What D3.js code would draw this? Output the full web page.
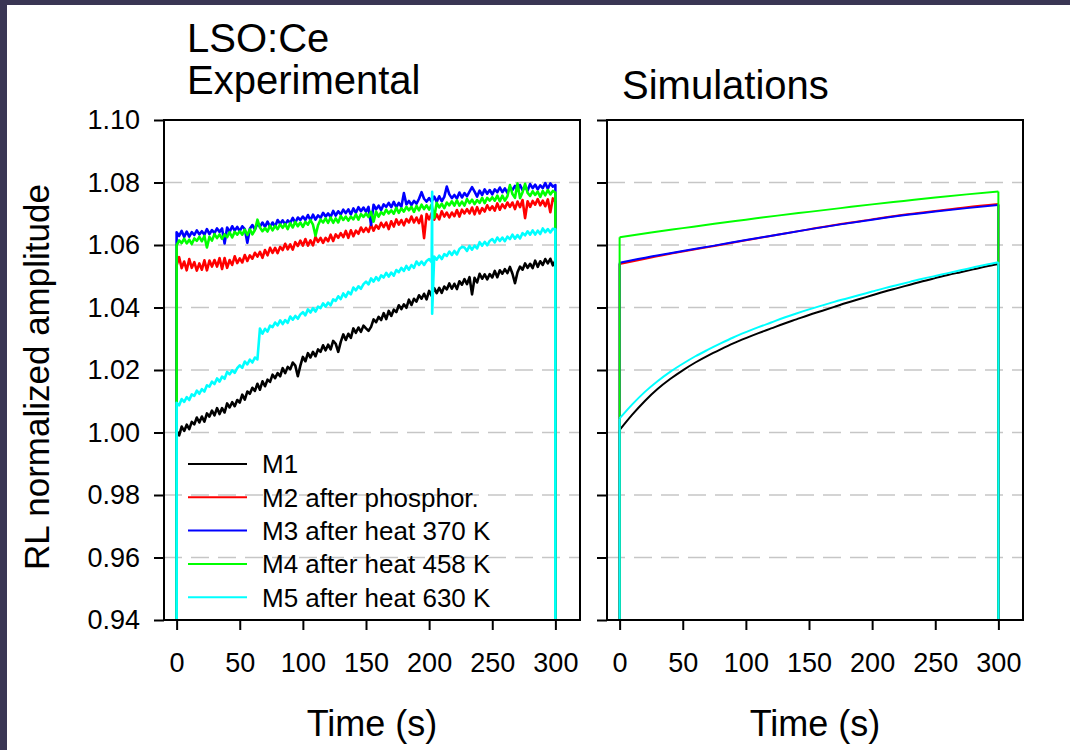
<!DOCTYPE html>
<html><head><meta charset="utf-8">
<script src="https://cdn.jsdelivr.net/npm/d3@7"></script>
<style>
html,body{margin:0;padding:0;background:#fff;overflow:hidden;}
svg{display:block;font-family:"Liberation Sans",Arial,Helvetica,sans-serif;}
</style></head><body>
<svg id="chart" width="1070" height="750"></svg>
<script>
// ---------------- DATA ----------------
const SERIES_NAMES = ["M1", "M2 after phosphor.", "M3 after heat 370 K", "M4 after heat 458 K", "M5 after heat 630 K"];
const SERIES_COLORS = ["#000000", "#ff0000", "#0000ff", "#00ff00", "#00ffff"];
const Y_TICKS = [0.94, 0.96, 0.98, 1.00, 1.02, 1.04, 1.06, 1.08, 1.10];
const X_TICKS = [0, 50, 100, 150, 200, 250, 300];
const BEAM_ON = 0, BEAM_OFF_T = 300;   // irradiation interval (s)
const OFF_LEVEL = 0;                    // signal when beam is off

// experimental: sampled every 2 s from 0 to 300 s
const EXP_TIME = d3.range(0, 301, 2);
const M1_EXP = [
1.0005,0.9991,1.0019,1.0005,1.0025, 1.0011,1.0034,1.0026,1.0048,1.0032, 1.0051,1.0035,1.0061,1.0051,1.0070,
1.0055,1.0078,1.0059,1.0078,1.0064, 1.0093,1.0080,1.0097,1.0084,1.0104, 1.0096,1.0121,1.0105,1.0131,1.0124,
1.0143,1.0133,1.0156,1.0137,1.0164, 1.0148,1.0169,1.0162,1.0185,1.0174, 1.0190,1.0180,1.0206,1.0190,1.0210,
1.0202,1.0224,1.0214,1.0180,1.0214, 1.0242,1.0228,1.0254,1.0240,1.0258, 1.0244,1.0266,1.0258,1.0279,1.0263,
1.0281,1.0266,1.0293,1.0284,1.0258, 1.0290,1.0314,1.0296,1.0316,1.0303, 1.0333,1.0319,1.0336,1.0322,1.0342,
1.0333,1.0325,1.0338,1.0362,1.0353, 1.0370,1.0360,1.0382,1.0363,1.0389, 1.0373,1.0393,1.0385,1.0407,1.0395,
1.0410,1.0399,1.0425,1.0408,1.0428, 1.0419,1.0439,1.0428,1.0444,1.0426, 1.0453,1.0437,1.0462,1.0446,1.0463,
1.0447,1.0467,1.0458,1.0477,1.0460, 1.0476,1.0459,1.0484,1.0473,1.0491, 1.0475,1.0497,1.0442,1.0495,1.0480,
1.0508,1.0492,1.0506,1.0490,1.0507, 1.0496,1.0517,1.0497,1.0519,1.0508, 1.0523,1.0510,1.0530,1.0508,1.0478,
1.0513,1.0531,1.0521,1.0541,1.0527, 1.0540,1.0526,1.0550,1.0530,1.0548, 1.0536,1.0555,1.0541,1.0556,1.0535,
1.0550];
const M2_EXP = [
1.0535,1.0561,1.0526,1.0547,1.0519, 1.0555,1.0527,1.0545,1.0518,1.0541, 1.0521,1.0551,1.0519,1.0550,1.0531,
1.0552,1.0531,1.0558,1.0523,1.0558, 1.0527,1.0552,1.0536,1.0564,1.0542, 1.0557,1.0544,1.0568,1.0549,1.0567,
1.0556,1.0575,1.0563,1.0578,1.0559, 1.0584,1.0567,1.0591,1.0575,1.0591, 1.0574,1.0594,1.0584,1.0604,1.0586,
1.0602,1.0585,1.0609,1.0597,1.0614, 1.0598,1.0619,1.0598,1.0615,1.0599, 1.0626,1.0610,1.0623,1.0607,1.0623,
1.0612,1.0633,1.0613,1.0634,1.0623, 1.0638,1.0625,1.0645,1.0623,1.0647, 1.0628,1.0646,1.0636,1.0656,1.0642,
1.0655,1.0642,1.0665,1.0646,1.0663, 1.0652,1.0671,1.0657,1.0672,1.0651, 1.0676,1.0659,1.0682,1.0665,1.0680,
1.0663,1.0683,1.0672,1.0691,1.0672, 1.0688,1.0670,1.0694,1.0622,1.0699, 1.0682,1.0702,1.0681,1.0698,1.0682,
1.0708,1.0691,1.0704,1.0688,1.0704, 1.0692,1.0712,1.0691,1.0713,1.0701, 1.0715,1.0701,1.0720,1.0698,1.0721,
1.0701,1.0718,1.0707,1.0727,1.0712, 1.0724,1.0710,1.0733,1.0713,1.0730, 1.0718,1.0736,1.0722,1.0736,1.0715,
1.0739,1.0721,1.0744,1.0686,1.0740, 1.0722,1.0741,1.0729,1.0747,1.0727, 1.0742,1.0724,1.0746,1.0705,1.0749,
1.0739];
const M3_EXP = [
1.0641,1.0629,1.0645,1.0626,1.0643, 1.0627,1.0641,1.0632,1.0647,1.0634, 1.0644,1.0633,1.0651,1.0635,1.0648,
1.0638,1.0653,1.0642,1.0653,1.0605, 1.0656,1.0642,1.0660,1.0646,1.0658, 1.0644,1.0660,1.0651,1.0607,1.0652,
1.0664,1.0650,1.0668,1.0659,1.0672, 1.0658,1.0675,1.0658,1.0672,1.0659, 1.0680,1.0668,1.0679,1.0666,1.0679,
1.0671,1.0687,1.0671,1.0688,1.0680, 1.0691,1.0680,1.0696,1.0679,1.0697, 1.0681,1.0695,1.0687,1.0703,1.0691,
1.0701,1.0690,1.0709,1.0694,1.0708, 1.0698,1.0713,1.0702,1.0714,1.0698, 1.0717,1.0703,1.0721,1.0708,1.0720,
1.0706,1.0722,1.0664,1.0729,1.0714, 1.0726,1.0712,1.0730,1.0722,1.0735, 1.0721,1.0738,1.0721,1.0735,1.0722,
1.0766,1.0730,1.0741,1.0728,1.0741, 1.0732,1.0748,1.0769,1.0748,1.0739, 1.0750,1.0739,1.0755,1.0738,1.0756,
1.0740,1.0754,1.0787,1.0762,1.0750, 1.0760,1.0749,1.0768,1.0752,1.0766, 1.0756,1.0771,1.0785,1.0771,1.0755,
1.0774,1.0760,1.0778,1.0764,1.0776, 1.0762,1.0778,1.0769,1.0784,1.0769, 1.0781,1.0767,1.0785,1.0776,1.0789,
1.0775,1.0792,1.0775,1.0787,1.0774, 1.0795,1.0782,1.0793,1.0778,1.0791, 1.0782,1.0798,1.0780,1.0797,1.0787,
1.0792];
const M4_EXP = [
1.0599,1.0615,1.0606,1.0620,1.0605, 1.0617,1.0603,1.0621,1.0613,1.0626, 1.0612,1.0629,1.0592,1.0626,1.0614,
1.0635,1.0622,1.0634,1.0620,1.0634, 1.0625,1.0641,1.0624,1.0642,1.0633, 1.0644,1.0633,1.0649,1.0632,1.0650,
1.0634,1.0648,1.0681,1.0656,1.0644, 1.0654,1.0643,1.0662,1.0647,1.0661, 1.0651,1.0666,1.0655,1.0667,1.0651,
1.0670,1.0656,1.0674,1.0660,1.0672, 1.0658,1.0674,1.0665,1.0680,1.0665, 1.0630,1.0663,1.0681,1.0672,1.0685,
1.0671,1.0688,1.0671,1.0685,1.0672, 1.0693,1.0680,1.0691,1.0678,1.0691, 1.0682,1.0698,1.0681,1.0699,1.0690,
1.0701,1.0690,1.0706,1.0675,1.0707, 1.0691,1.0705,1.0697,1.0713,1.0701, 1.0711,1.0700,1.0719,1.0703,1.0717,
1.0707,1.0722,1.0711,1.0722,1.0706, 1.0725,1.0711,1.0729,1.0715,1.0727, 1.0713,1.0729,1.0687,1.0735,1.0720,
1.0732,1.0718,1.0736,1.0727,1.0740, 1.0726,1.0743,1.0726,1.0739,1.0726, 1.0747,1.0734,1.0745,1.0731,1.0744,
1.0735,1.0751,1.0734,1.0751,1.0742, 1.0753,1.0742,1.0758,1.0740,1.0758, 1.0742,1.0756,1.0792,1.0763,1.0751,
1.0797,1.0750,1.0769,1.0796,1.0767, 1.0757,1.0772,1.0760,1.0771,1.0754, 1.0773,1.0759,1.0776,1.0762,1.0773,
1.0768];
const M5_EXP = [
1.0095,1.0087,1.0107,1.0098,1.0113, 1.0104,1.0122,1.0117,1.0134,1.0124, 1.0139,1.0131,1.0151,1.0147,1.0163,
1.0155,1.0173,1.0163,1.0179,1.0172, 1.0194,1.0186,1.0199,1.0191,1.0206, 1.0215,1.0207,1.0227,1.0218,1.0233,
1.0224,1.0240,1.0234,1.0333,1.0316, 1.0332,1.0323,1.0342,1.0337,1.0352, 1.0343,1.0359,1.0347,1.0360,1.0351,
1.0371,1.0361,1.0373,1.0364,1.0378, 1.0385,1.0375,1.0394,1.0384,1.0398, 1.0387,1.0403,1.0398,1.0413,1.0403,
1.0416,1.0407,1.0426,1.0421,1.0436, 1.0427,1.0445,1.0434,1.0450,1.0442, 1.0464,1.0455,1.0468,1.0460,1.0475,
1.0483,1.0474,1.0493,1.0483,1.0497, 1.0487,1.0503,1.0496,1.0511,1.0499, 1.0512,1.0502,1.0520,1.0513,1.0527,
1.0517,1.0533,1.0521,1.0536,1.0527, 1.0547,1.0536,1.0547,1.0536,1.0549, 1.0555,1.0545,1.0563,1.0553,1.0566,
1.0555,1.0571,1.0565,1.0579,1.0568, 1.0581,1.0570,1.0587,1.0594,1.0592, 1.0581,1.0597,1.0585,1.0598,1.0589,
1.0609,1.0598,1.0610,1.0599,1.0613, 1.0619,1.0608,1.0624,1.0613,1.0624, 1.0612,1.0627,1.0619,1.0633,1.0620,
1.0632,1.0621,1.0638,1.0631,1.0644, 1.0633,1.0647,1.0633,1.0646,1.0635, 1.0653,1.0641,1.0651,1.0640,1.0652,
1.0650];
// single-sample glitch in M5 (time, value)
const M5_GLITCH_T = [202.4, 202.4];
const M5_GLITCH_V = [1.0770, 1.0380];

// simulations
const SIM_TIME_FINE = [0,10,20,30,40,50,60,70,80,90,100,110,120,130,140,150,160,170,180,190,200,210,220,230,240,250,260,270,280,290,300];
const SIM_TIME_COARSE = [0,25,50,75,100,125,150,175,200,225,250,275,300];
const M1_SIM = [1.0008,1.0057,1.0101,1.0139,1.0171,1.0199,1.0224,1.0246,1.0266,1.0285,1.0302,1.0318,1.0333,1.0348,1.0362,1.0376,1.0389,1.0402,1.0415,1.0427,1.0439,1.0451,1.0462,1.0473,1.0484,1.0494,1.0504,1.0513,1.0522,1.0531,1.0539];
const M5_SIM = [1.0045,1.0090,1.0130,1.0164,1.0194,1.0220,1.0244,1.0265,1.0285,1.0304,1.0321,1.0337,1.0352,1.0367,1.0381,1.0394,1.0406,1.0418,1.0429,1.0440,1.0451,1.0462,1.0472,1.0482,1.0492,1.0501,1.0510,1.0519,1.0528,1.0537,1.0545];
const M2_SIM = [1.0539,1.0560,1.0579,1.0597,1.0615,1.0633,1.0650,1.0667,1.0682,1.0697,1.0709,1.0721,1.0731];
const M3_SIM = [1.0543,1.0563,1.0581,1.0598,1.0616,1.0633,1.0650,1.0666,1.0681,1.0695,1.0707,1.0718,1.0728];
const M4_SIM = [1.0625,1.0640,1.0654,1.0668,1.0681,1.0694,1.0706,1.0718,1.0730,1.0741,1.0752,1.0762,1.0771];

// ---------------- DRAW ----------------
const svg = d3.select("#chart");
const W = 1070, H = 750;
svg.append("rect").attr("width", W).attr("height", H).attr("fill", "#ffffff");
svg.append("rect").attr("x", 0).attr("y", 0).attr("width", W).attr("height", 5).attr("fill", "#3a3654");
svg.append("rect").attr("x", 0).attr("y", 0).attr("width", 7).attr("height", H).attr("fill", "#3a3654");

const TOP = 120, BOTTOM = 620;
const panels = [
  {x0: 164, x1: 580, labels: true},
  {x0: 607, x1: 1023, labels: false}
];
const y = d3.scaleLinear().domain([0.94, 1.10]).range([BOTTOM, TOP]);

const expSeries = [M1_EXP, M2_EXP, M3_EXP, M4_EXP, M5_EXP].map((vals, i) => {
  let pts = EXP_TIME.map((t, j) => ({t, v: vals[j]}));
  if (i === 4) {
    pts = pts.concat(M5_GLITCH_T.map((t, k) => ({t, v: M5_GLITCH_V[k]})));
    pts.sort((a, b) => a.t - b.t);
  }
  return [{t: BEAM_ON, v: OFF_LEVEL}].concat(pts, [{t: BEAM_OFF_T, v: OFF_LEVEL}]);
});
const simTimes = [SIM_TIME_FINE, SIM_TIME_COARSE, SIM_TIME_COARSE, SIM_TIME_COARSE, SIM_TIME_FINE];
const simSeries = [M1_SIM, M2_SIM, M3_SIM, M4_SIM, M5_SIM].map((vals, i) =>
  simTimes[i].map((t, j) => ({t, v: vals[j]})));

panels.forEach((p, pi) => {
  const x = d3.scaleLinear().domain([-10, 319.5]).range([p.x0, p.x1]);
  const g = svg.append("g");
  const clipId = "clip" + pi;
  svg.append("clipPath").attr("id", clipId).append("rect")
    .attr("x", p.x0).attr("y", TOP).attr("width", p.x1 - p.x0).attr("height", BOTTOM - TOP);

  // grid
  g.append("g").selectAll("line").data(Y_TICKS.slice(1, -1)).join("line")
    .attr("x1", p.x0).attr("x2", p.x1).attr("y1", d => y(d)).attr("y2", d => y(d))
    .attr("stroke", "#c6c6c6").attr("stroke-width", 1.5).attr("stroke-dasharray", "18,9");

  const plot = g.append("g").attr("clip-path", `url(#${clipId})`);
  const line = d3.line().x(d => x(d.t)).y(d => y(d.v));
  if (pi === 0) {
    expSeries.forEach((s, i) => {
      plot.append("path").datum(s).attr("d", line)
        .attr("fill", "none").attr("stroke", SERIES_COLORS[i]).attr("stroke-width", 2.6)
        .attr("stroke-linejoin", "round");
    });
  } else {
    const smooth = d3.line().x(d => x(d.t)).y(d => y(d.v)).curve(d3.curveMonotoneX);
    simSeries.forEach((s, i) => {
      const first = s[0], last = s[s.length - 1];
      const grp = plot.append("g").attr("fill", "none").attr("stroke", SERIES_COLORS[i]).attr("stroke-width", 2);
      grp.append("path").datum([{t: first.t, v: OFF_LEVEL}, first]).attr("d", line);
      grp.append("path").datum(s).attr("d", smooth);
      grp.append("path").datum([last, {t: last.t, v: OFF_LEVEL}]).attr("d", line);
    });
  }

  // frame
  g.append("rect").attr("x", p.x0).attr("y", TOP).attr("width", p.x1 - p.x0).attr("height", BOTTOM - TOP)
    .attr("fill", "none").attr("stroke", "#000").attr("stroke-width", 2);

  // y axis
  const ya = d3.axisLeft(y).tickValues(Y_TICKS).tickSize(10).tickSizeOuter(0).tickPadding(14)
    .tickFormat(p.labels ? d3.format(".2f") : "");
  const yg = g.append("g").attr("transform", `translate(${p.x0},0)`).call(ya);
  yg.select(".domain").remove();
  yg.selectAll(".tick line").attr("stroke", "#000").attr("stroke-width", 2);
  yg.selectAll(".tick text").attr("font-size", 27).attr("fill", "#000")
    .attr("font-family", '"Liberation Sans",Arial,sans-serif');

  // x axis
  const xa = d3.axisBottom(x).tickValues(X_TICKS).tickSize(10).tickSizeOuter(0).tickPadding(23);
  const xg = g.append("g").attr("transform", `translate(0,${BOTTOM})`).call(xa);
  xg.select(".domain").remove();
  xg.selectAll(".tick line").attr("stroke", "#000").attr("stroke-width", 2);
  xg.selectAll(".tick text").attr("font-size", 27).attr("fill", "#000")
    .attr("font-family", '"Liberation Sans",Arial,sans-serif');

  // x title
  g.append("text").attr("x", (p.x0 + p.x1) / 2).attr("y", 736).attr("text-anchor", "middle")
    .attr("font-size", 36).text("Time (s)");
});

// legend (left panel)
const legend = svg.append("g");
SERIES_NAMES.forEach((name, i) => {
  const ly = 464 + i * 33.3;
  legend.append("line").attr("x1", 188).attr("x2", 247).attr("y1", ly).attr("y2", ly)
    .attr("stroke", SERIES_COLORS[i]).attr("stroke-width", 2);
  legend.append("text").attr("x", 262).attr("y", ly).attr("dy", "0.36em")
    .attr("font-size", 26).text(name);
});

// titles
svg.append("text").attr("x", 187).attr("y", 52).attr("font-size", 40).text("LSO:Ce");
svg.append("text").attr("x", 187).attr("y", 94).attr("font-size", 40).text("Experimental");
svg.append("text").attr("x", 622).attr("y", 99).attr("font-size", 40).text("Simulations");

// y title
svg.append("text").attr("transform", "translate(49,377) rotate(-90)").attr("text-anchor", "middle")
  .attr("font-size", 35).text("RL normalized amplitude");
</script>
</body></html>
